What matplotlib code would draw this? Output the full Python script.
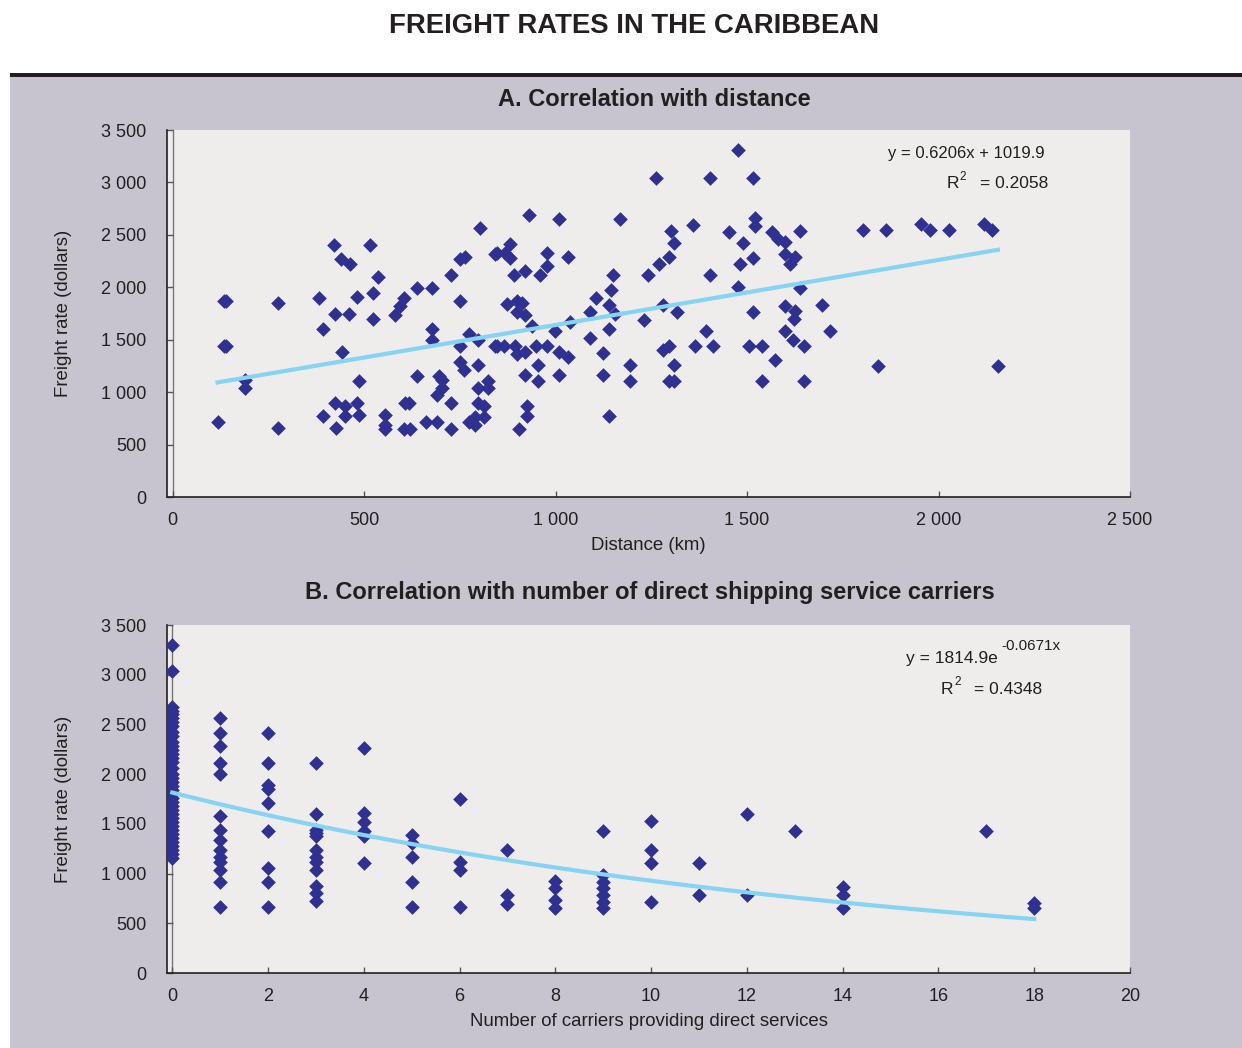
import numpy as np
import matplotlib
matplotlib.use('Agg')
import matplotlib.pyplot as plt
from matplotlib.patches import Rectangle
from matplotlib.ticker import FuncFormatter, MultipleLocator

plt.rcParams['font.family'] = ['Liberation Sans', 'DejaVu Sans']

# Panel A: distance (km) vs freight rate (dollars)
dist_km = [
    135, 140, 135, 140, 190, 190, 117, 274, 274, 381, 392, 392, 420, 425, 425, 427,
    440, 464, 442, 449, 449, 460, 481, 481, 486, 487, 514, 522, 522, 536, 555, 555,
    555, 581, 594, 603, 607, 604, 619, 616, 638, 638, 661, 677, 677, 677, 690, 690,
    696, 703, 703, 728, 728, 728, 751, 751, 751, 751, 764, 760, 773, 773, 797, 797,
    797, 797, 789, 790, 812, 812, 823, 823, 802, 842, 842,
    931, 1010, 1167, 1263, 1404, 1476, 1515, 847, 869, 882, 882, 890, 921, 960, 977,
    977, 1032, 873, 899, 912, 899, 921, 937, 999, 1038, 847, 865, 895, 899, 921, 949,
    977, 1010, 1032, 921, 954, 954, 1010, 925, 925, 903, 1089, 1105, 1140, 1151, 1145,
    1154, 1140, 1089, 1123, 1123, 1195, 1195, 1140, 1230, 1241, 1269, 1297, 1302, 1308,
    1280, 1318, 1280, 1297, 1308, 1297, 1308, 1359, 1392, 1365, 1410, 1404, 1453, 1476,
    1482, 1488, 1515, 1521, 1521, 1515, 1504, 1539, 1539, 1572, 1565, 1582, 1600, 1598,
    1613, 1626, 1639, 1639, 1600, 1626, 1622, 1600, 1621, 1648, 1648,
    1802, 1863, 1955, 1978, 2028, 2118, 2139, 1695, 1717, 1842, 2155,
]
rate_a = [
    1870, 1870, 1440, 1440, 1120, 1040, 715, 1850, 655, 1895, 1600, 775, 2405, 1750, 900, 655,
    2265, 2220, 1380, 870, 775, 1750, 1910, 895, 785, 1110, 2405, 1950, 1700, 2100, 785, 650,
    690, 1740, 1820, 1895, 900, 650, 650, 900, 1990, 1150, 715, 1990, 1605, 1500, 715, 975,
    1150, 1120, 1040, 2115, 900, 650, 1870, 1440, 1285, 2265, 2285, 1210, 1550, 715, 1500, 1255,
    1040, 900, 760, 690, 865, 765, 1110, 1040, 2565, 2315, 1440,
    2690, 2655, 2655, 3045, 3045, 3310, 3045, 2325, 2325, 2415, 2275, 2115, 2155, 2115, 2325,
    2205, 2285, 1840, 1870, 1850, 1760, 1740, 1630, 1580, 1670, 1440, 1440, 1440, 1360, 1380, 1440,
    1440, 1380, 1335, 1165, 1255, 1105, 1165, 865, 775, 650, 1765, 1895, 1830, 2115, 1970,
    1750, 1600, 1520, 1375, 1165, 1255, 1105, 775, 1685, 2115, 2220, 2285, 2540, 2425,
    1830, 1765, 1405, 1440, 1255, 1105, 1105, 2590, 1580, 1440, 1440, 2115, 2530, 2000,
    2220, 2425, 2275, 2660, 2585, 1765, 1440, 1440, 1105, 1310, 2530, 2460, 2430, 2315,
    2220, 2285, 2540, 1990, 1820, 1775, 1700, 1580, 1500, 1440, 1105,
    2550, 2550, 2605, 2550, 2550, 2605, 2550, 1830, 1580, 1245, 1245,
]
lin_slope, lin_icpt = 0.6206, 1019.9

# Panel B: number of carriers vs freight rate (dollars)
carrier_counts = [0, 1, 2, 3, 4, 5, 6, 7, 8, 9, 10, 11, 12, 13, 14, 17, 18]
rates_by_carriers = [
    [3300, 3040, 2680, 2640, 2600, 2560, 2520, 2480, 2420, 2380, 2320, 2280, 2240, 2200,
     2160, 2120, 2060, 2000, 1960, 1920, 1880, 1840, 1800, 1760, 1720, 1680, 1640, 1600,
     1560, 1520, 1480, 1440, 1400, 1360, 1320, 1280, 1240, 1200, 1160],
    [2560, 2410, 2280, 2115, 2000, 1575, 1435, 1340, 1240, 1165, 1120, 1040, 915, 660],
    [2410, 2115, 1890, 1850, 1710, 1430, 1055, 915, 660],
    [2115, 1600, 1440, 1405, 1375, 1240, 1170, 1120, 1040, 870, 800, 725],
    [2265, 1610, 1520, 1425, 1375, 1110],
    [1390, 1305, 1170, 915, 660],
    [1745, 1120, 1040, 660],
    [1240, 785, 695],
    [925, 850, 735, 650],
    [1430, 985, 920, 850, 785, 715, 650],
    [1530, 1240, 1110, 715],
    [1105, 785],
    [1600, 785],
    [1425],
    [860, 785, 650],
    [1425],
    [700, 650],
]
exp_a, exp_b = 1814.9, -0.0671

carriers = [c for c, rs in zip(carrier_counts, rates_by_carriers) for _ in rs]
rate_b = [r for rs in rates_by_carriers for r in rs]

panel_bg = '#C7C4CF'
plot_bg = '#EEEDEB'
marker_col = '#2E3192'
trend_col = '#87D3F3'
text_col = '#231F20'

W, H = 1242, 1048
fig = plt.figure(figsize=(12.42, 10.48), dpi=100)
fig.patch.set_facecolor('white')
fig.add_artist(Rectangle((10 / W, 0), 1, 1 - 77 / H, transform=fig.transFigure,
                         facecolor=panel_bg, edgecolor='none', zorder=0))
fig.add_artist(Rectangle((10 / W, 1 - 77 / H), 1, 4 / H, transform=fig.transFigure,
                         facecolor='#231F20', edgecolor='none', zorder=0))

fig.text(634 / W, 1 - 26 / H, 'FREIGHT RATES IN THE CARIBBEAN', ha='center', va='center',
         fontsize=19.8, fontweight='bold', color=text_col)
fig.text(654 / W, 1 - 100 / H, 'A. Correlation with distance', ha='center', va='center',
         fontsize=17, fontweight='bold', color=text_col)
fig.text(650 / W, 1 - 593 / H, 'B. Correlation with number of direct shipping service carriers',
         ha='center', va='center', fontsize=17, fontweight='bold', color=text_col)

thousands = FuncFormatter(lambda v, p: f'{int(v):,}'.replace(',', ' '))


def style_axes(ax):
    ax.set_facecolor(plot_bg)
    for s in ['top', 'right']:
        ax.spines[s].set_visible(False)
    for s in ['left', 'bottom']:
        ax.spines[s].set_color('#231F20')
        ax.spines[s].set_linewidth(1.2)
    ax.tick_params(direction='in', length=4, width=1, color='#555555', labelsize=13,
                   labelcolor=text_col)
    ax.tick_params(axis='y', pad=15)
    ax.tick_params(axis='x', pad=11)
    ax.set_ylim(0, 3500)
    ax.yaxis.set_major_locator(MultipleLocator(500))
    ax.yaxis.set_major_formatter(thousands)
    ax.set_ylabel('Freight rate (dollars)', fontsize=13.4, color=text_col)
    ax.yaxis.set_label_coords(-0.0986, 0.5)


def px_text(ax, left, bottom, height, x, y, s, **kw):
    # place text by pixel position of the reference image
    ax.text((x - left) / 963, (bottom - y) / height, s, transform=ax.transAxes,
            color=text_col, **kw)


# Panel A
axA = fig.add_axes([167 / W, 1 - 497 / H, 963 / W, 367 / H])
style_axes(axA)
axA.set_xlim(-15, 2500)
axA.xaxis.set_major_locator(MultipleLocator(500))
axA.xaxis.set_major_formatter(thousands)
axA.axvline(0, color='#777777', lw=1, zorder=1)
axA.scatter(dist_km, rate_a, marker='D', s=56, color=marker_col, linewidths=0, zorder=3)
xa = np.linspace(min(dist_km), max(dist_km), 50)
axA.plot(xa, lin_slope * xa + lin_icpt, color=trend_col, lw=3, zorder=4)
axA.set_xlabel('Distance (km)', fontsize=13.4, color=text_col)
axA.xaxis.set_label_coords(0.5, -0.11)
px_text(axA, 167, 497, 367, 1045, 153, 'y = 0.6206x + 1019.9', ha='right', va='center', fontsize=12)
px_text(axA, 167, 497, 367, 947, 184, 'R', ha='left', va='center', fontsize=12.5)
px_text(axA, 167, 497, 367, 959, 177, '2', ha='left', va='center', fontsize=8.5)
px_text(axA, 167, 497, 367, 1048, 184, '= 0.2058', ha='right', va='center', fontsize=12.5)

# Panel B
axB = fig.add_axes([167 / W, 1 - 973 / H, 963 / W, 348 / H])
style_axes(axB)
axB.set_xlim(-0.11, 20)
axB.xaxis.set_major_locator(MultipleLocator(2))
axB.axvline(0, color='#777777', lw=1, zorder=1)
axB.scatter(carriers, rate_b, marker='D', s=56, color=marker_col, linewidths=0, zorder=3)
xb = np.linspace(min(carriers), max(carriers), 100)
axB.plot(xb, exp_a * np.exp(exp_b * xb), color=trend_col, lw=3, zorder=4)
axB.set_xlabel('Number of carriers providing direct services', fontsize=13.4, color=text_col)
axB.xaxis.set_label_coords(0.5, -0.114)
px_text(axB, 167, 973, 348, 998, 658, 'y = 1814.9e', ha='right', va='center', fontsize=12.5)
px_text(axB, 167, 973, 348, 1001, 646, '-0.0671x', ha='left', va='center', fontsize=11)
px_text(axB, 167, 973, 348, 941, 689, 'R', ha='left', va='center', fontsize=12.5)
px_text(axB, 167, 973, 348, 954, 682, '2', ha='left', va='center', fontsize=8.5)
px_text(axB, 167, 973, 348, 1042, 689, '= 0.4348', ha='right', va='center', fontsize=12.5)

fig.savefig('out.png', dpi=100)
